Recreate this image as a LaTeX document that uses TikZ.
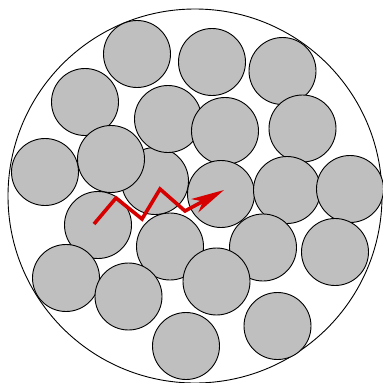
\documentclass[tikz,border=0pt]{standalone}
\usetikzlibrary{arrows.meta}
\definecolor{ballgray}{RGB}{191,191,191}
\definecolor{pathred}{RGB}{214,0,0}
\begin{document}
\begin{tikzpicture}[x=1pt,y=-1pt,
  ball/.style={draw=black,fill=ballgray,line width=0.9pt},
  walk/.style={draw=pathred,line width=3.6pt,line join=miter,
    -{Stealth[length=33pt,width=15pt,inset=9pt]}}]
\useasboundingbox (0,0) rectangle (383,383);
\draw[line width=0.9pt,fill=white] (195,196) circle (187);
\foreach \x/\y in {155/181,168/119,137/54,212/62,282.5/71,85/102,225/131,302.5/128.5,
  45/172,111/159,221/194,287/190,350/189,98/225,170/246.5,263/247.5,335/252,
  66/278,216.5/281.5,128.5/296.5,186/346,277.5/326}
  \draw[ball] (\x,\y) circle (33.5);
\coordinate (w0) at (94,224);
\coordinate (w1) at (116,198);
\coordinate (w2) at (142,219);
\coordinate (w3) at (160,189);
\coordinate (w4) at (185,211);
\coordinate (w5) at (224,190);
\draw[walk] (w0) -- (w1) -- (w2) -- (w3) -- (w4) -- (w5);
\end{tikzpicture}
\end{document}
